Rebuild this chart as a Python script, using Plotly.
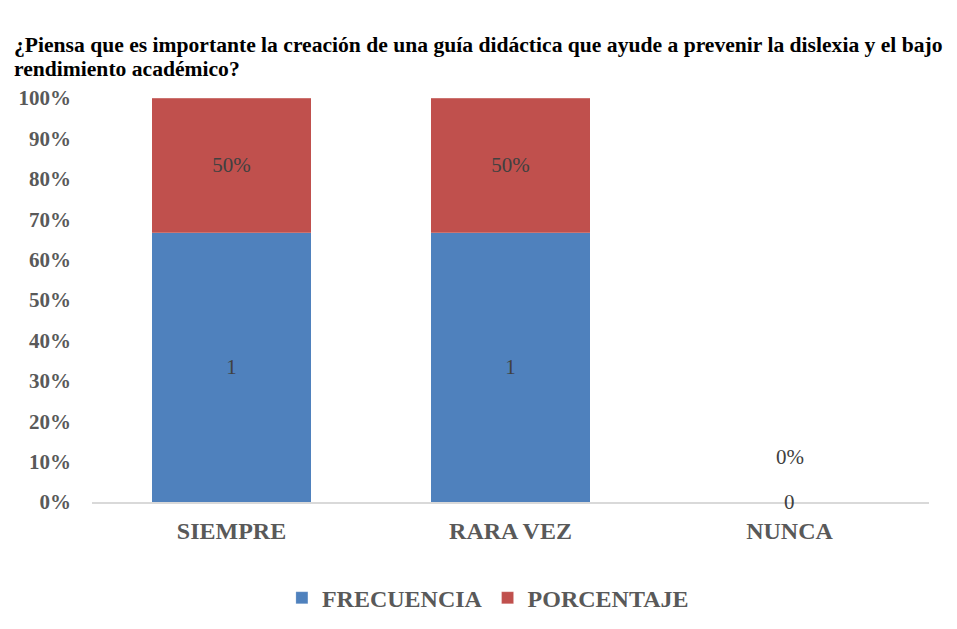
import plotly.graph_objects as go

categories = ["SIEMPRE", "RARA VEZ", "NUNCA"]
frecuencia = [1, 1, 0]
porcentaje = [0.5, 0.5, 0.0]
y_ticks = [0, 0.1, 0.2, 0.3, 0.4, 0.5, 0.6, 0.7, 0.8, 0.9, 1.0]
title_lines = [
    "¿Piensa que es importante la creación de una guía didáctica que ayude a prevenir la dislexia y el bajo",
    "rendimiento académico?",
]

BLUE = "#4F81BD"
RED = "#C0504D"
GRAY = "#595959"
LABEL = "#404040"
SERIF = "Liberation Serif"

# 100% stacked: share of each series within its category
totals = [f + p for f, p in zip(frecuencia, porcentaje)]
frec_share = [f / t if t else 0 for f, t in zip(frecuencia, totals)]
porc_share = [p / t if t else 0 for p, t in zip(porcentaje, totals)]

fig = go.Figure()

fig.add_trace(go.Bar(
    x=categories, y=frec_share, name="FRECUENCIA",
    marker=dict(color=BLUE, line=dict(color="rgba(255,255,255,0.4)", width=0.5)),
    text=[str(v) if v else "" for v in frecuencia],
    textposition="inside", insidetextanchor="middle",
    textfont=dict(family=SERIF, size=21, color=LABEL),
))
fig.add_trace(go.Bar(
    x=categories, y=porc_share, name="PORCENTAJE",
    marker=dict(color=RED, line=dict(color="rgba(255,255,255,0.4)", width=0.5)),
    text=[f"{v:.0%}" if v else "" for v in porcentaje],
    textposition="inside", insidetextanchor="middle",
    textfont=dict(family=SERIF, size=21, color=LABEL),
))

# zero-value labels for the empty category (Excel still prints them)
for i, cat in enumerate(categories):
    if totals[i] == 0:
        fig.add_annotation(x=cat, y=0, text=str(frecuencia[i]), showarrow=False,
                           font=dict(family=SERIF, size=21, color=LABEL), yshift=0)
        fig.add_annotation(x=cat, y=0, text=f"{porcentaje[i]:.0%}", showarrow=False,
                           font=dict(family=SERIF, size=21, color=LABEL), yshift=45)

# title, two lines placed like the original (tighter line spacing)
for txt, ty in zip(title_lines, [1.1312, 1.0718]):
    fig.add_annotation(xref="paper", yref="paper", x=-0.0956, y=ty,
                       xanchor="left", yanchor="middle", showarrow=False, text=txt,
                       font=dict(family=SERIF, size=21.6, color="black", weight="bold"))

# light chart frame
fig.add_shape(type="rect", xref="paper", yref="paper",
              x0=-0.1016, x1=1.06, y0=-0.35, y1=1.2252,
              line=dict(color="#D9D9D9", width=1.5), layer="below")

fig.update_layout(
    barmode="stack",
    bargap=0.43,
    width=957, height=629,
    margin=dict(l=84, r=36, t=90, b=135),
    plot_bgcolor="white", paper_bgcolor="white",
    showlegend=True,
    legend=dict(
        orientation="h", x=0.473, xanchor="center", y=-0.238, yanchor="middle",
        font=dict(family=SERIF, size=24, color=GRAY, weight="bold"),
        traceorder="normal", itemwidth=30,
    ),
)

fig.update_xaxes(
    showline=True, linecolor="#D9D9D9", linewidth=1.5,
    showgrid=False, ticks="", ticklabelstandoff=6, automargin=False,
    tickfont=dict(family=SERIF, size=24, color=GRAY, weight="bold"),
)
fig.update_yaxes(
    range=[0, 1], tickvals=y_ticks, tickformat=".0%",
    showgrid=False, showline=False, zeroline=False, ticks="",
    ticklabelstandoff=20, automargin=False,
    tickfont=dict(family=SERIF, size=21, color=GRAY, weight="bold"),
)

fig.write_html("out.html")
